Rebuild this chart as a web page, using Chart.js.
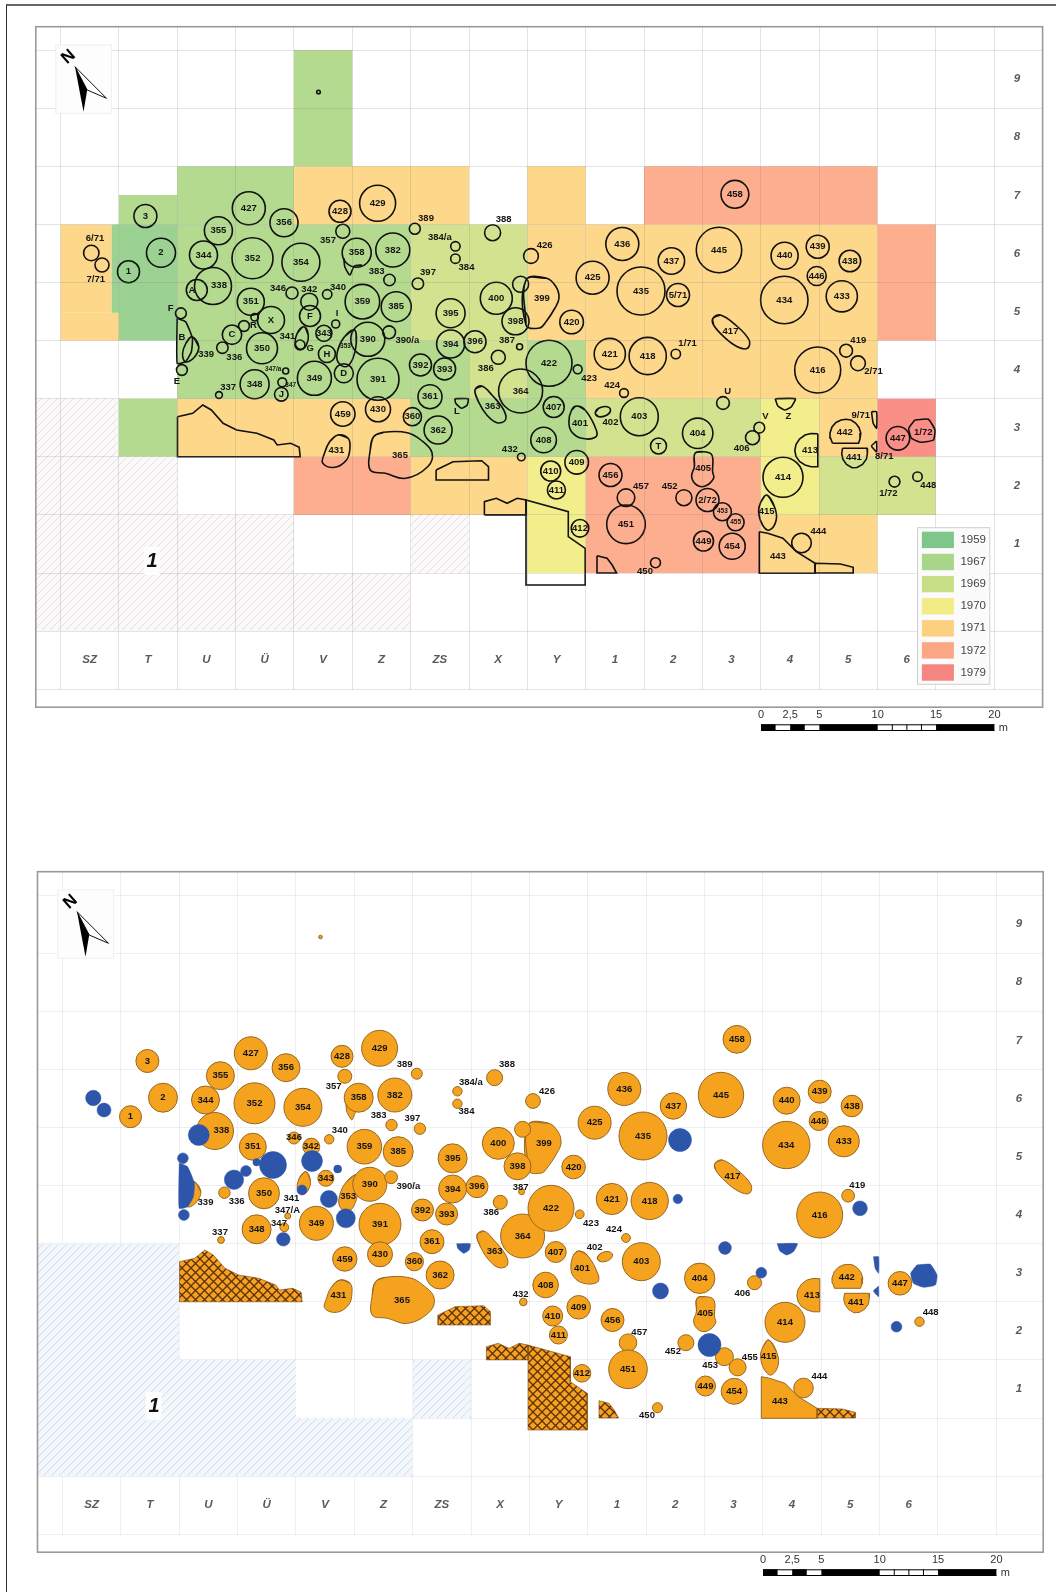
<!DOCTYPE html>
<html>
<head>
<meta charset="utf-8">
<title>Excavation plan</title>
<script src="https://cdn.jsdelivr.net/npm/chart.js@4/dist/chart.umd.min.js"></script>
<style>
  html, body { margin: 0; background: #fff; }
  body { width: 1056px; height: 1592px; position: relative; overflow: hidden; }
  canvas { position: absolute; }
  #frame { position: absolute; left: 6px; top: 4px; width: 1060px; height: 1600px; border-left: 1px solid #333; border-top: 2px solid #666; }
</style>
</head>
<body>
<div id="frame"></div>
<canvas id="planYears" width="1056" height="800" style="left:0;top:0"></canvas>
<canvas id="planPits" width="1054" height="747" style="left:2px;top:845px"></canvas>
<script>
// grid of the survey, in map units (5 m = 58.35 units)
const xGrid = [60.5, 118.9, 177.2, 235.6, 293.9, 352.3, 410.6, 469, 527.3, 585.7, 644, 702.4, 760.7, 819.1, 877.4, 935.8, 994.1];
const yGrid = [50, 108.2, 166.3, 224.4, 282.5, 340.6, 398.7, 456.8, 514.9, 573, 631.1, 689.2];
const columnNames = ['SZ', 'T', 'U', 'Ü', 'V', 'Z', 'ZS', 'X', 'Y', '1', '2', '3', '4', '5', '6'];
const rowNames = ['9', '8', '7', '6', '5', '4', '3', '2', '1'];

// excavation years
const years = ['1959', '1967', '1969', '1970', '1971', '1972', '1979'];
const yearColors = ['#9bd291', '#b4da8f', '#d2e28f', '#f3ee8c', '#fed88a', '#fdae8f', '#f98f86'];
const swatchColors = ['#7fc68a', '#a9d58b', '#c9df86', '#f1ec85', '#fdd07f', '#fba784', '#f4857f'];
const cells1959 = [[111.6, 224.4, 118.9, 312.7], [118.9, 224.4, 177.2, 340.6]];
const cells1967 = [[293.9, 50, 352.3, 166.3], [177.2, 166.3, 293.9, 224.4], [118.9, 195, 177.2, 224.4],
  [177.2, 224.4, 410.6, 398.7], [410.6, 340.6, 469, 398.7], [527.3, 340.6, 585.7, 398.7],
  [118.9, 398.7, 177.2, 456.8], [410.6, 398.7, 585.7, 456.8]];
const cells1969 = [[410.6, 224.4, 527.3, 340.6], [469, 340.6, 527.3, 398.7], [585.7, 398.7, 760.7, 456.8], [819.1, 456.8, 935.8, 514.9]];
const cells1970 = [[760.7, 398.7, 819.1, 514.9], [527.3, 456.8, 585.7, 573]];
const cells1971 = [[293.9, 166.3, 469, 224.4], [527.3, 166.3, 585.7, 224.4], [60.5, 224.4, 111.6, 312.7], [60.5, 312.7, 118.9, 340.6],
  [527.3, 224.4, 585.7, 340.6], [585.7, 224.4, 877.4, 398.7], [177.2, 398.7, 410.6, 456.8], [819.1, 398.7, 877.4, 456.8],
  [410.6, 456.8, 527.3, 514.9], [760.7, 514.9, 877.4, 573]];
const cells1972 = [[644, 166.3, 877.4, 224.4], [877.4, 224.4, 935.8, 340.6], [293.9, 456.8, 410.6, 514.9], [585.7, 456.8, 760.7, 573]];
const cells1979 = [[877.4, 398.7, 935.8, 456.8]];
const yearCells = [cells1959, cells1967, cells1969, cells1970, cells1971, cells1972, cells1979];
const unexcavated = [[35.8, 398.7, 118.9, 456.8], [35.8, 456.8, 177.2, 514.9], [35.8, 514.9, 293.9, 573], [410.6, 514.9, 469, 573], [35.8, 573, 410.6, 631.1]];
const unexcavatedLower = [[118.9, 398.7, 177.2, 456.8]];

// round pits: name, centre, radius
const pitNames = ['3', '2', '1', '355', '427', '356', '428', '429', '344', '352',
  '354', '357', '358', '382', '389', '388', '384/a', '384', '338', '383',
  '397', '351', '346', '342', '340', '359', '385', '395', '400', '398',
  '', '390', '390/a', '394', '396', '387', '343', '350', '336', '392',
  '393', '386', '361', '364', '348', '349', '391', '347/A', '347', '337',
  '459', '430', '360', '362', '432', '426', '425', '436', '437', '435',
  '445', '458', '440', '439', '438', '446', '434', '433', '420', '422',
  '421', '418', '419', '416', '423', '424', '407', '403', '408', '404',
  '406', '447', '414', '409', '410', '411', '456', '457', '451', '452',
  '453', '455', '449', '454', '450', '412', '444', '448', ''];
const pitX = [145.4, 161, 128.5, 218.4, 248.8, 284, 340, 377.6, 203.5, 252.5,
  300.9, 342.8, 356.7, 392.8, 414.8, 492.6, 455.4, 455.4, 213, 389.5,
  417.9, 250.8, 292, 309.3, 327.2, 362.4, 396.2, 450.6, 496.3, 515.5,
  520.6, 367.8, 389.1, 450.6, 475, 519.6, 323.9, 262, 222.4, 420.5,
  444.6, 498.3, 430, 520.6, 254.6, 314.4, 378, 285.7, 282.3, 219,
  342.8, 378, 412.4, 438.1, 521.3, 531, 592.6, 622.3, 671.4, 641,
  719, 734.9, 784.6, 817.7, 849.9, 816.7, 784.3, 841.8, 571.6, 549,
  609.8, 647.7, 846.1, 817.7, 577.7, 624, 553.7, 639.3, 543.6, 697.7,
  752.5, 897.9, 783, 576.7, 550.7, 556.4, 610.5, 626, 626, 683.9,
  722.4, 735.6, 703.5, 732.2, 655.5, 580, 801.5, 917.5, 318.5];
const pitY = [216, 252.7, 271.7, 230.7, 208.3, 222.7, 211.3, 203.3, 255, 258.3,
  262.3, 231.3, 252.7, 250, 228.7, 232.7, 246.3, 258.7, 286, 280,
  283.7, 301.7, 293, 301.7, 294.3, 301.7, 306.7, 313.3, 298.3, 321.3,
  284.3, 339.3, 332.3, 344, 341.7, 346.7, 333.3, 348.3, 347.7, 365,
  369, 357.3, 396.7, 391, 384.3, 378.3, 379.3, 371, 382.3, 395,
  414, 409.3, 416.7, 430, 457, 256, 277.7, 244, 261, 291,
  250, 194.3, 255.7, 246.7, 261, 276, 300, 296.3, 322, 363.3,
  354, 356, 350.7, 370, 369.3, 393, 407, 416.7, 440, 433.3,
  437.7, 438.3, 477.3, 462.3, 471, 490, 475, 497.7, 524.3, 497.7,
  511.7, 522.3, 541, 546.3, 562.7, 528.3, 543, 476.7, 92];
const pitR = [11.5, 14.5, 11, 14, 16.5, 14, 11, 18, 14, 20.5,
  19, 7, 14.5, 17, 5.5, 8, 4.7, 4.7, 18.5, 5.7,
  5.7, 13.5, 6, 8.5, 4.7, 17.3, 15, 14.5, 16, 13.5,
  8, 17, 6.4, 14, 11, 3, 8, 15.5, 5.7, 11,
  11, 7, 12, 22, 14.5, 17, 21, 3, 4.4, 3.4,
  12.2, 12.5, 9.1, 14, 3.8, 7.4, 16.5, 16.5, 13.2, 24,
  22.7, 13.9, 13.5, 11.5, 10.8, 9.5, 23.7, 15.6, 11.8, 23,
  15.6, 18.6, 6.4, 23, 4.4, 4.4, 10.5, 19, 12.8, 15.2,
  7, 11.8, 20, 11.8, 10, 9, 11.5, 8.8, 19.3, 8,
  9, 8.5, 10, 13, 5, 8.8, 9.8, 4.7, 1.8];

// round features of the other period (blue on the lower plan)
const featureX = [91.3, 102, 196.8, 180.9, 254.6, 271, 232, 244, 310, 335.7, 300, 326.9, 343.8, 281.3, 181.9, 723, 759.3, 658.5, 678, 675.8, 858, 707.5, 894.5];
const featureY = [253, 265, 290, 313.3, 317.3, 320, 334.7, 326, 316, 324, 345, 354, 373.3, 394.3, 370, 403, 427.7, 446, 295, 354, 363.3, 500, 481.7];
const featureR = [7.7, 7, 10.5, 5.4, 3.7, 13.5, 9.7, 5.4, 10.5, 4, 5, 8.5, 9.5, 6.8, 5.4, 6.4, 5.4, 8, 11.5, 4.7, 7.4, 11.5, 5.4];

// irregular pits
const outline431 = [[338, 435], [348.2, 438.3], [349.9, 448.3], [346.5, 460], [334.7, 467.3], [322.8, 463.3], [324.5, 453.3], [329.6, 441.7]];
const outline365 = [[373.6, 436.7], [383.7, 432.3], [407.4, 432.7], [420.9, 440], [432, 452.7], [427.7, 466.7], [405.7, 478.3], [385.4, 473.3], [370.2, 470], [370.2, 450]];
const outline363 = [[475, 390], [481.7, 386], [491.9, 395], [503.7, 410], [505.4, 420], [497, 422.7], [486.8, 415], [478.4, 401.7]];
const outline417 = [[713, 318.3], [720.4, 315], [735.6, 325], [749.1, 340], [747.4, 348.3], [737.3, 346.7], [723.8, 336.7], [713.6, 325]];
const outline399 = [[526, 280], [546, 278], [556, 286.7], [559, 298], [555, 308], [546, 321.7], [539.5, 328], [526, 325]];
const outline353 = [[354.7, 330], [344.5, 336.7], [337.8, 350], [337.8, 361.7], [346.2, 366.7], [353, 358.3], [356.3, 343.3]];
const outline341 = [[303.9, 326.7], [308.3, 335], [306.3, 345], [300.6, 349.3], [295.5, 345], [297.2, 333.3]];
const outline339 = [[192, 336.7], [198.8, 346.7], [193.4, 358.3], [185.3, 361.7], [182.6, 353.3], [185.9, 343.3]];
const outline401 = [[576.7, 406], [585.2, 410], [596.3, 430], [595.3, 437.3], [581.8, 438.3], [571.6, 431.7], [568.9, 421.7], [571.6, 410]];
const outline402 = [[595.3, 413.3], [598.7, 408.3], [607.1, 406.7], [610.5, 410], [607.1, 415], [598.7, 416.7]];
const outline405 = [[695, 453.3], [703.5, 451.7], [711.9, 455], [712.6, 471.7], [713.6, 478.3], [705.2, 486], [696.7, 485], [691.6, 476.7], [694.4, 466.7]];
const outline415 = [[766.7, 495], [774.5, 506.7], [776.2, 520], [769.4, 530], [762.6, 525], [758.6, 511.7], [761, 501.7]];
const softPits = [outline431, outline365, outline363, outline417, outline399, outline353, outline341, outline339, outline401, outline402, outline405, outline415];

const outline413 = [[817.8, 433.7], [811, 433.5], [805, 435], [799.5, 439], [796, 444.5], [794.8, 450.5], [796, 456.5], [799.5, 461.5], [805, 465], [811, 466.8], [817.8, 466.8]];
const outline442 = [[832.5, 443.3], [830.5, 438], [830, 433], [832, 427], [836, 422.5], [841, 420], [846, 419.3], [851, 420], [855.5, 423], [859, 427.5], [860.8, 433], [860, 439], [858.5, 443.3]];
const outline441 = [[842.5, 448.3], [867, 448.3], [867.4, 453], [866.5, 459], [862.5, 464.5], [857, 467.5], [852, 467.8], [846.5, 464.5], [843, 459.5], [841.7, 454]];
const outline443 = [[759.3, 531.7], [767.7, 533.3], [782.9, 538.3], [796.4, 551.7], [815, 563.3], [815, 573.3], [759.3, 573.3]];
const hardPits = [outline413, outline442, outline441, outline443];
const tail358 = [[343.8, 258], [344.8, 266.7], [349.9, 275], [354.3, 266], [362, 265]];

// cross-hatched areas
const hatchWest = [[177.5, 416.7], [192.7, 413.3], [202.8, 405], [211.3, 410], [223.1, 423.3], [236.6, 430], [256.9, 433.3], [273.8, 440], [277.2, 445], [290.7, 443.3], [299.2, 447.3], [300.2, 456.8], [177.5, 456.8]];
const hatchMiddle = [[436.1, 470], [436.1, 480], [488.5, 480], [488.5, 466.7], [481.7, 460.7], [453, 461.7]];
const hatchStrip = [[484.4, 514.9], [484.4, 501.7], [496.3, 498.3], [507.1, 503.3], [517.2, 498.3], [526, 500], [526, 514.9]];
const hatchBlock = [[526, 500], [568.3, 511.7], [568.3, 536.7], [585.2, 548.3], [585.2, 585], [526, 585]];
const hatchCorner = [[597, 555.7], [607.1, 558.3], [612.2, 565], [616.6, 573], [597, 573]];
const hatchEast = [[815, 563.3], [840.4, 564], [853.2, 567.3], [853.2, 573], [815, 573]];
const hatchAreas = [hatchWest, hatchMiddle, hatchStrip, hatchBlock, hatchCorner, hatchEast];

// irregular features of the other period
const featureB = [[177.2, 318.3], [185.6, 321.7], [192.4, 338.3], [191.4, 351.7], [185.6, 361.7], [177.2, 363.3]];
const featureL = [[454.7, 398.7], [468.2, 398.7], [467.2, 405], [461.5, 408.3], [455.7, 403.3]];
const featureZ = [[775.2, 398.7], [795.4, 398.7], [791.4, 406.7], [784.6, 410], [777.9, 406]];
const feature971 = [[871.5, 411.7], [876.6, 411.7], [876.6, 428.3], [873.2, 423.3]];
const feature871 = [[876.6, 441], [871.5, 446], [876.6, 451.7]];
const feature172 = [[914.8, 420], [928.3, 419.3], [935, 430], [933.4, 440], [921.5, 442.3], [911.4, 438.3], [908.7, 428.3]];
const featureShapes = [featureB, featureL, featureZ, feature971, feature871, feature172];

// names written inside irregular pits
const shapeNames = ['399', '363', '417', '431', '365', '401', '405', '413', '442', '441', '415', '443'];
const shapeNameX = [541.9, 492.6, 730.5, 336.4, 400, 580, 703.1, 810, 844.8, 853.9, 766.7, 777.9];
const shapeNameY = [298.3, 406.7, 331.7, 450.7, 455, 423.3, 468.3, 450.7, 432.7, 457.3, 511.7, 556.7];

// names placed by hand on the upper plan
const topNames = ['6/71', '7/71', '357', '389', '388', '384/a', '384', '338', '383', '397', '346', '342', '340', '426',
  'A', 'F', 'B', 'R', 'I', 'G', 'E', '339', '336', '341', '390/a', '387', '353', '347/a', '347', '337', '386', 'L', '432',
  '1/71', '419', '2/71', '423', '424', 'U', '402', 'V', '406', 'Z', '9/71', '8/71', '457', '452', '453', '455', '450', '444',
  '1/72', '448', '1/72', 'C', 'X', 'F', 'H', 'D', 'J', 'T', '5/71', '2/72'];
const topNameX = [95, 95.7, 328, 426, 503.7, 439.8, 466.5, 219, 376.6, 428, 278, 309.3, 338, 544.6,
  192, 170.7, 181.9, 253.5, 337, 310.3, 176.8, 206.2, 234.3, 287.4, 407.4, 507, 345.5, 273.2, 290.7, 228.2, 485.8, 457, 509.8,
  687.6, 858.3, 873.5, 589.2, 612.2, 727.8, 610.5, 765.3, 741.7, 788.3, 860.7, 884.3, 641, 669.7, 722.4, 735.6, 645, 818.4,
  888.4, 928.3, 923.2, 232, 271, 310, 326.9, 343.8, 281.3, 658.5, 678, 707.5];
const topNameY = [238, 279, 240.7, 218.7, 219.3, 237, 267.3, 285, 271.3, 272.7, 288, 289.3, 287.7, 245.7,
  290, 308.3, 337.3, 325, 313.3, 348.3, 381, 354, 357.7, 336.7, 340.7, 340, 346.7, 369.3, 385, 387.3, 368.3, 411.7, 449,
  343.3, 340, 371.7, 378.3, 385, 391, 422.3, 416.7, 448.3, 416, 415, 456.7, 486, 486, 511.7, 522.3, 571.7, 531.7,
  493.3, 485, 432.3, 334.7, 320, 316, 354, 373.3, 394.3, 446, 295, 500];
const tinyTopNames = ['353', '347/a', '347', '453', '455'];

// names placed by hand on the lower plan
const lowerNames = ['357', '389', '384/a', '384', '388', '338', '383', '397', '340', '346', '342', '339', '336', '341', '347/A', '390/a',
  '387', '386', '353', '337', '347', '432', '426', '419', '423', '424', '402', '406', '457', '452', '453', '455', '450', '444', '448'];
const lowerNameX = [331.7, 402.7, 468.9, 464.5, 505, 219.4, 376.6, 410.4, 337.8, 292, 309, 203.5, 234.6, 289.4, 285.4, 406.4,
  518.6, 489.2, 346.2, 218, 277, 518.6, 545, 855.3, 589, 612, 592.6, 740.4, 637.3, 671, 708.2, 747.8, 645, 817.4, 928.7];
const lowerNameY = [241, 219, 237.3, 266.7, 219.7, 285, 270, 273.3, 285, 292.3, 301, 357.7, 356, 353.3, 365, 341.7,
  342.7, 367.7, 351, 387.3, 378.3, 449, 246, 340.7, 378.3, 384, 402.3, 448.3, 487, 506.7, 520.3, 512.3, 570.7, 531.7, 467.3];

// scale bar, in metres
const scaleTicks = [0, 2.5, 5, 10, 15, 20];
const scaleTickNames = ['0', '2,5', '5', '10', '15', '20'];
const scaleBlack = [[0, 1.25], [2.5, 3.75], [5, 10], [15, 20]];
const scaleDividers = [11.25, 12.5, 13.75];
const unitsPerMetre = 11.67;
const scaleOrigin = 761;

const textFont = '"Liberation Sans", Arial, sans-serif';

function makePattern(size, background, paint) {
  const tile = document.createElement('canvas');
  tile.width = size;
  tile.height = size;
  const c = tile.getContext('2d');
  c.fillStyle = background;
  c.fillRect(0, 0, size, size);
  paint(c);
  return c.createPattern(tile, 'repeat');
}

function slashes(color) {
  return makePattern(8, 'rgba(255,255,255,0)', c => {
    c.strokeStyle = color;
    c.lineWidth = 1;
    c.beginPath();
    c.moveTo(-2, 10); c.lineTo(10, -2);
    c.moveTo(-6, 6); c.lineTo(6, -6);
    c.moveTo(2, 14); c.lineTo(14, 2);
    c.stroke();
  });
}

function crossHatch() {
  return makePattern(9, '#f4a21f', c => {
    c.strokeStyle = '#5e2f0c';
    c.lineWidth = 1.3;
    c.beginPath();
    c.moveTo(0, 0); c.lineTo(9, 9);
    c.moveTo(9, 0); c.lineTo(0, 9);
    c.stroke();
  });
}

const toPoints = list => list.map(p => ({ x: p[0], y: p[1] }));
const closed = list => toPoints(list.concat([list[0]]));
// run once past the start so the curve has no corner where it closes
const smoothRing = list => toPoints([list[list.length - 1]].concat(list, [list[0], list[1]]));
const rectPoints = r => toPoints([[r[0], r[1]], [r[2], r[1]], [r[2], r[3]], [r[0], r[3]], [r[0], r[1]]]);

function outlineSet(points, fillColor, lineColor, lineWidth, tension, order) {
  return {
    type: 'scatter',
    data: points,
    showLine: true,
    fill: fillColor ? 'shape' : false,
    backgroundColor: fillColor || 'transparent',
    borderColor: lineColor,
    borderWidth: lineWidth,
    tension: tension,
    pointRadius: 0,
    order: order
  };
}

function mapDatasets(colored) {
  const sets = [];
  // the upper plan has the years, the lower one only the pits
  if (colored) {
    yearCells.forEach((cells, i) => {
      cells.forEach(r => sets.push(outlineSet(rectPoints(r), yearColors[i], 'transparent', 0, 0, 50)));
    });
  }
  const hatch = slashes(colored ? 'rgba(190,170,170,0.32)' : 'rgba(170,195,220,0.5)');
  const hatched = colored ? unexcavated : unexcavated.concat(unexcavatedLower);
  hatched.forEach(r => {
    sets.push(outlineSet(rectPoints(r), colored ? '#faf8f8' : '#f3f6fa', 'transparent', 0, 0, 49));
    sets.push(outlineSet(rectPoints(r), hatch, 'transparent', 0, 0, 48));
  });

  const pitFill = colored ? null : '#f5a31f';
  const pitLine = colored ? '#111' : '#96671f';
  const pitWidth = colored ? 1.6 : 1;
  const featureFill = colored ? null : '#2d55aa';
  const featureLine = colored ? '#111' : '#2d55aa';
  const featureWidth = colored ? 1.6 : 0.5;

  const cross = crossHatch();
  hatchAreas.forEach(a => sets.push(outlineSet(closed(a), colored ? null : cross, colored ? '#111' : '#7a4a14', colored ? 1.6 : 0.6, 0, 40)));
  softPits.forEach(a => sets.push(outlineSet(smoothRing(a), pitFill, pitLine, pitWidth, 0.4, 30)));
  hardPits.forEach(a => sets.push(outlineSet(closed(a), pitFill, pitLine, pitWidth, 0, 30)));
  sets.push(outlineSet(toPoints(tail358), pitFill, pitLine, pitWidth, 0.2, 30));

  sets.push({
    type: 'bubble',
    data: pitX.map((x, i) => ({ x: x, y: pitY[i], r: pitR[i] })),
    backgroundColor: colored ? 'transparent' : pitFill,
    borderColor: pitLine,
    borderWidth: pitWidth,
    order: 20
  });
  sets.push({
    type: 'bubble',
    data: featureX.map((x, i) => ({ x: x, y: featureY[i], r: featureR[i] })),
    backgroundColor: colored ? 'transparent' : featureFill,
    borderColor: featureLine,
    borderWidth: featureWidth,
    order: 10
  });
  featureShapes.forEach(a => sets.push(outlineSet(closed(a), featureFill, featureLine, featureWidth, 0.15, 10)));
  return sets;
}

function centerText(c, text, x, y) {
  c.textAlign = 'center';
  c.textBaseline = 'middle';
  c.fillText(text, x, y);
}

// everything the library has no element for: names, arrow, legend, scale bar
function annotations(panel) {
  return {
    id: 'annotations',
    afterDraw(chart) {
      const c = chart.ctx;
      const sx = v => chart.scales.x.getPixelForValue(v);
      const sy = v => chart.scales.y.getPixelForValue(v);
      c.save();

      // panel border
      c.strokeStyle = '#9a9a9a';
      c.lineWidth = 1.6;
      c.strokeRect(sx(panel.xMin), sy(26.7), sx(panel.xMax) - sx(panel.xMin), sy(707.2) - sy(26.7));

      // north arrow
      c.fillStyle = panel.colored ? '#fdfdfd' : '#fdfdfe';
      c.strokeStyle = '#efefef';
      c.lineWidth = 1;
      c.fillRect(sx(55.8), sy(45), 55.8, 68.3);
      c.strokeRect(sx(55.8), sy(45), 55.8, 68.3);
      c.fillStyle = '#fff';
      c.strokeStyle = '#111';
      c.lineWidth = 1;
      c.beginPath();
      c.moveTo(sx(75), sy(66.7)); c.lineTo(sx(106.5), sy(98.3)); c.lineTo(sx(87.2), sy(90)); c.closePath();
      c.fill(); c.stroke();
      c.fillStyle = '#000';
      c.beginPath();
      c.moveTo(sx(75), sy(66.7)); c.lineTo(sx(87.2), sy(90)); c.lineTo(sx(83.5), sy(111.7)); c.closePath();
      c.fill();
      c.save();
      c.translate(sx(68.6), sy(57));
      c.rotate(-0.72);
      c.font = 'bold 17px ' + textFont;
      centerText(c, 'N', 0, 0);
      c.restore();

      // sheet number
      c.fillStyle = '#fdfdfd';
      c.fillRect(sx(143.7), sy(547), 16, 28);
      c.fillStyle = '#111';
      c.font = 'italic bold 20px ' + textFont;
      centerText(c, '1', sx(152), sy(561.5));

      // grid names
      c.fillStyle = '#5a5a5a';
      c.font = 'italic bold 11.5px ' + textFont;
      columnNames.forEach((n, i) => centerText(c, n, sx((xGrid[i] + xGrid[i + 1]) / 2), sy(660)));
      rowNames.forEach((n, i) => centerText(c, n, sx(1017), sy((yGrid[i] + yGrid[i + 1]) / 2)));

      // pit names
      const placed = panel.colored ? topNames : lowerNames;
      const placedX = panel.colored ? topNameX : lowerNameX;
      const placedY = panel.colored ? topNameY : lowerNameY;
      c.fillStyle = '#141414';
      c.font = 'bold 9.5px ' + textFont;
      pitNames.forEach((n, i) => {
        if (n && placed.indexOf(n) < 0 && n !== '347/A' && n !== '347') centerText(c, n, sx(pitX[i]), sy(pitY[i]));
      });
      shapeNames.forEach((n, i) => centerText(c, n, sx(shapeNameX[i]), sy(shapeNameY[i])));
      placed.forEach((n, i) => {
        const tiny = panel.colored && tinyTopNames.indexOf(n) >= 0;
        c.font = 'bold ' + (tiny ? 6.5 : 9.5) + 'px ' + textFont;
        centerText(c, n, sx(placedX[i]), sy(placedY[i]));
      });

      // legend of the years
      if (panel.colored) {
        c.fillStyle = '#fbfbfb';
        c.strokeStyle = '#cfcfcf';
        c.lineWidth = 1;
        c.fillRect(sx(917.5), sy(527.7), 72.3, 156.6);
        c.strokeRect(sx(917.5), sy(527.7), 72.3, 156.6);
        years.forEach((y, i) => {
          const top = 531.7 + i * 22.1;
          c.fillStyle = swatchColors[i];
          c.fillRect(sx(921.9), sy(top), 32, 16.4);
          c.fillStyle = '#444';
          c.font = '11.5px ' + textFont;
          c.textAlign = 'left';
          c.textBaseline = 'middle';
          c.fillText(y, sx(960.4), sy(top + 8.2));
        });
      }

      // scale bar
      const bar = m => sx(scaleOrigin + m * unitsPerMetre);
      c.fillStyle = '#fff';
      c.fillRect(bar(0), sy(724.3), bar(20) - bar(0), 6.7);
      c.fillStyle = '#000';
      scaleBlack.forEach(s => c.fillRect(bar(s[0]), sy(724.3), bar(s[1]) - bar(s[0]), 6.7));
      scaleDividers.forEach(m => c.fillRect(bar(m) - 0.5, sy(724.3), 1, 6.7));
      c.fillRect(bar(0), sy(724.3), bar(20) - bar(0), 1);
      c.fillRect(bar(0), sy(730), bar(20) - bar(0), 1);
      c.fillStyle = '#333';
      c.font = '11px ' + textFont;
      scaleTicks.forEach((m, i) => centerText(c, scaleTickNames[i], bar(m), sy(715)));
      centerText(c, 'm', bar(20) + 9, sy(727.7));

      c.restore();
    }
  };
}

function drawPlan(id, panel) {
  const canvas = document.getElementById(id);
  new Chart(canvas.getContext('2d'), {
    type: 'bubble',
    data: { datasets: mapDatasets(panel.colored) },
    plugins: [annotations(panel)],
    options: {
      responsive: false,
      animation: false,
      devicePixelRatio: 1,
      layout: {
        autoPadding: false,
        padding: { left: panel.xMin, right: canvas.width - panel.xMax, top: 26.7, bottom: canvas.height - 689.5 }
      },
      plugins: {
        legend: { display: false },
        title: { display: false },
        tooltip: { enabled: false }
      },
      scales: {
        x: {
          type: 'linear',
          min: panel.xMin,
          max: panel.xMax,
          afterBuildTicks: axis => { axis.ticks = xGrid.map(v => ({ value: v })); },
          ticks: { display: false },
          border: { display: false },
          grid: { color: panel.gridColor, lineWidth: 1, drawTicks: false, z: panel.colored ? 1 : -1 }
        },
        y: {
          type: 'linear',
          reverse: true,
          min: 26.7,
          max: 689.5,
          afterBuildTicks: axis => { axis.ticks = yGrid.map(v => ({ value: v })); },
          ticks: { display: false },
          border: { display: false },
          grid: { color: panel.gridColor, lineWidth: 1, drawTicks: false, z: panel.colored ? 1 : -1 }
        }
      }
    }
  });
}

drawPlan('planYears', { colored: true, xMin: 35.8, xMax: 1042.6, gridColor: 'rgba(120,120,130,0.2)' });
drawPlan('planPits', { colored: false, xMin: 35.5, xMax: 1041.2, gridColor: 'rgba(130,130,150,0.13)' });
</script>
</body>
</html>
